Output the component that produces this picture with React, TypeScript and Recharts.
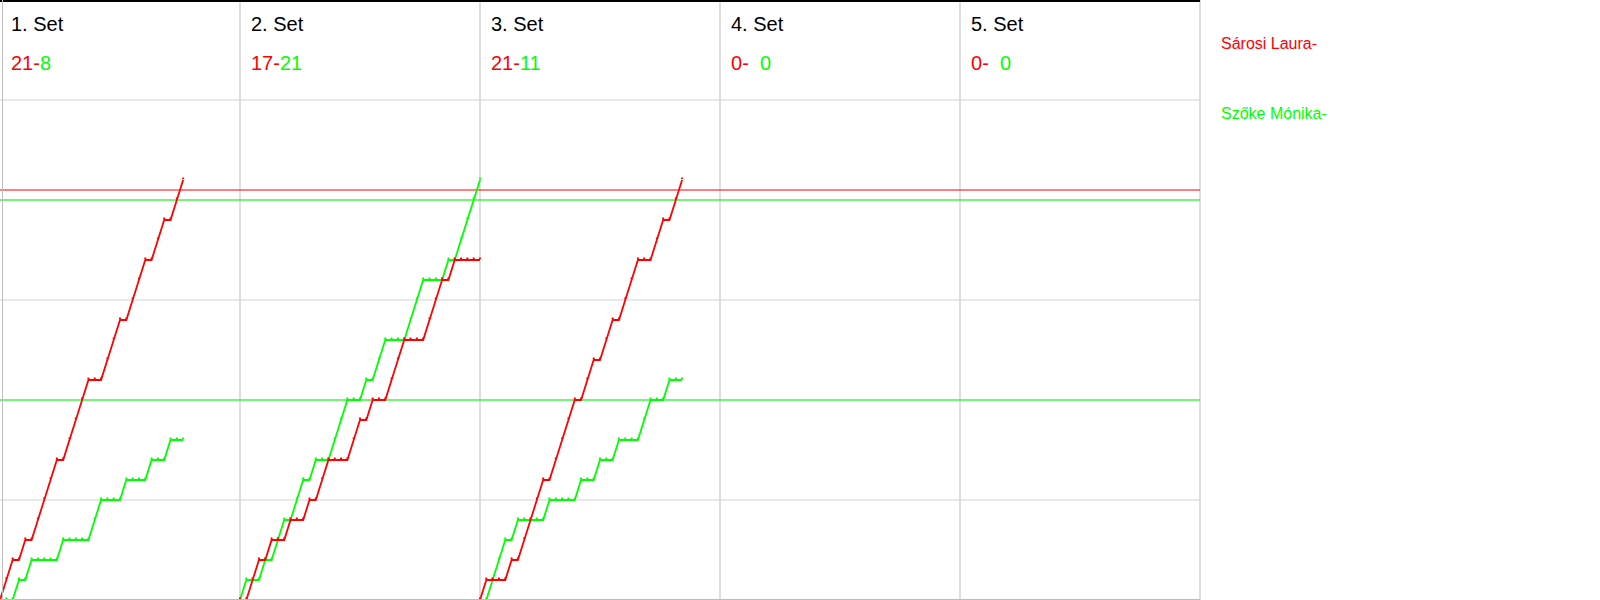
import { LineChart, Line, XAxis, YAxis, CartesianGrid, ReferenceLine } from 'recharts'

const RED = '#ff0000'
const GREEN = '#00ff00'

const PLAYERS = ['Sárosi Laura-', 'Szőke Mónika-']
const SET_TITLES = ['1. Set', '2. Set', '3. Set', '4. Set', '5. Set']
const SCORES_RED = ['21', '17', '21', '0', '0']
const SCORES_GREEN = ['8', '21', '11', '  0', '  0']

// rally slots per set panel
const SLOTS = 38
const Y_TICKS = [0, 5, 10, 15, 20, 25, 30]
const REF_RED = 20.5
const REF_GREEN = [20, 10]

// cumulative score after each rally
const set1Red = [0, 1, 2, 2, 3, 3, 4, 5, 6, 7, 7, 8, 9, 10, 11, 11, 11, 12, 13, 14, 14, 15, 16, 17, 17, 18, 19, 19, 20, 21]
const set1Green = [0, 0, 0, 1, 1, 2, 2, 2, 2, 2, 3, 3, 3, 3, 3, 4, 5, 5, 5, 5, 6, 6, 6, 6, 7, 7, 7, 8, 8, 8]
const set2Red = [0, 0, 1, 2, 2, 3, 3, 3, 4, 4, 4, 5, 5, 6, 7, 7, 7, 7, 8, 9, 9, 10, 10, 10, 11, 12, 13, 13, 13, 13, 14, 15, 16, 16, 17, 17, 17, 17, 17]
const set2Green = [0, 1, 1, 1, 2, 2, 3, 4, 4, 5, 6, 6, 7, 7, 7, 8, 9, 10, 10, 10, 11, 11, 12, 13, 13, 13, 13, 14, 15, 16, 16, 16, 16, 17, 17, 18, 19, 20, 21]
const set3Red = [0, 1, 1, 1, 1, 2, 2, 3, 4, 5, 6, 6, 7, 8, 9, 10, 10, 11, 12, 12, 13, 14, 14, 15, 16, 17, 17, 17, 18, 19, 19, 20, 21]
const set3Green = [0, 0, 1, 2, 3, 3, 4, 4, 4, 4, 4, 5, 5, 5, 5, 5, 6, 6, 6, 7, 7, 7, 8, 8, 8, 8, 9, 10, 10, 10, 11, 11, 11]

const SETS = [
  { red: set1Red, green: set1Green },
  { red: set2Red, green: set2Green },
  { red: set3Red, green: set3Green },
]

const toPoints = (vals: number[], setIdx: number) =>
  vals.map((v, i) => ({ x: setIdx * SLOTS + i, y: v }))

const tinyDot = (color: string) => (p: any) => (
  <rect key={p.index} x={p.cx - 1} y={p.cy - 2.5} width={2} height={1.5} fill={color} />
)

const font = '"Liberation Sans", Arial, sans-serif'

export default function App() {
  return (
    <div style={{ position: 'absolute', left: 0, top: 0, width: 1600, height: 600, background: '#fff', fontFamily: font }}>
      <LineChart width={1202} height={600} margin={{ top: 0, right: 2, bottom: 0, left: 0 }}>
        <XAxis type="number" dataKey="x" domain={[0, SLOTS * 5]} hide allowDataOverflow />
        <YAxis type="number" domain={[0, 30]} ticks={Y_TICKS} hide />
        <CartesianGrid vertical={false} stroke="#d3d3d3" />
        {SET_TITLES.map((_, k) => (
          <ReferenceLine key={k} x={(k + 1) * SLOTS} stroke="#bdbdbd" />
        ))}
        <ReferenceLine y={REF_RED} stroke={RED} />
        {REF_GREEN.map(v => (
          <ReferenceLine key={v} y={v} stroke={GREEN} />
        ))}
        {SETS.map((s, k) => (
          <Line
            key={'g' + k}
            data={toPoints(s.green, k)}
            dataKey="y"
            type="linear"
            stroke={GREEN}
            strokeWidth={1.8}
            dot={tinyDot(GREEN)}
            activeDot={false}
            isAnimationActive={false}
          />
        ))}
        {SETS.map((s, k) => (
          <Line
            key={'r' + k}
            data={toPoints(s.red, k)}
            dataKey="y"
            type="linear"
            stroke={RED}
            strokeWidth={1.8}
            dot={tinyDot(RED)}
            activeDot={false}
            isAnimationActive={false}
          />
        ))}
      </LineChart>

      {/* frame */}
      <div style={{ position: 'absolute', left: 0, top: 0, width: 1200, height: 2, background: '#000' }} />
      <div style={{ position: 'absolute', left: 2, top: 0, width: 1, height: 600, background: '#bdbdbd' }} />
      <div style={{ position: 'absolute', left: 0, top: 599, width: 1200, height: 1, background: '#bdbdbd' }} />

      {SET_TITLES.map((t, k) => (
        <div key={t} style={{ position: 'absolute', left: k * 240 + 11, top: 0 }}>
          <div style={{ position: 'absolute', top: 14, fontSize: 20, lineHeight: '20px', color: '#000', whiteSpace: 'pre' }}>{t}</div>
          <div style={{ position: 'absolute', top: 53, fontSize: 20, lineHeight: '20px', whiteSpace: 'pre' }}>
            <span style={{ color: RED }}>{SCORES_RED[k]}-</span>
            <span style={{ color: GREEN }}>{SCORES_GREEN[k]}</span>
          </div>
        </div>
      ))}

      <div style={{ position: 'absolute', left: 1221, top: 35.5, fontSize: 16, lineHeight: '16px', color: RED, whiteSpace: 'pre' }}>{PLAYERS[0]}</div>
      <div style={{ position: 'absolute', left: 1221, top: 105.5, fontSize: 16, lineHeight: '16px', color: GREEN, whiteSpace: 'pre' }}>{PLAYERS[1]}</div>
    </div>
  )
}
